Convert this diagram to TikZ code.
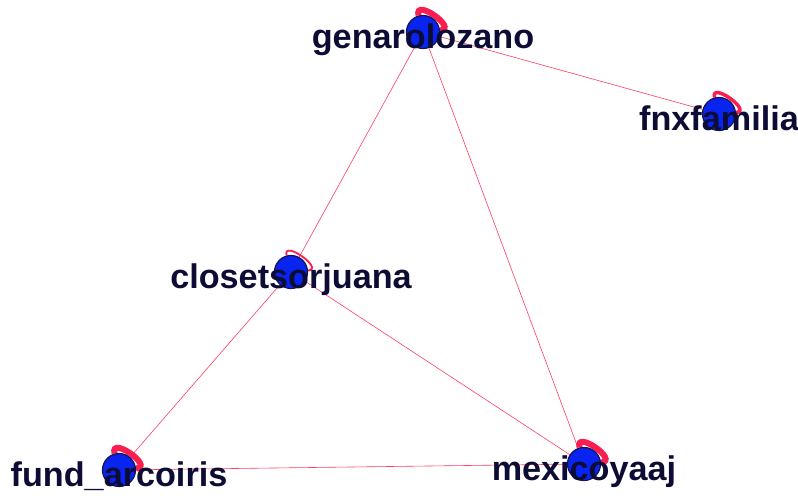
\documentclass[tikz,border=0pt]{standalone}
\usepackage{fontspec}
\setsansfont{Liberation Sans}
\usetikzlibrary{positioning}
\usetikzlibrary{backgrounds}
\definecolor{nodeblue}{RGB}{10,36,240}
\definecolor{nodeline}{RGB}{20,20,80}
\definecolor{labelink}{RGB}{12,12,52}
\definecolor{edgered}{RGB}{255,60,100}
\definecolor{loopred}{RGB}{250,30,80}
\tikzset{
    usernode/.style = {circle, line width=1.2pt, draw=nodeline, fill=nodeblue, minimum size=33pt, inner sep=0pt},
    userlabel/.style = {font=\sffamily\bfseries\fontsize{34.2}{34}\selectfont, text=labelink, anchor=base, inner sep=0pt, label distance=-1pt},
    edgeln/.style = {-, line width=0.6pt, edgered},
    selfloop/.style = {-, line width=6pt, loopred},
    selfloopthin/.style = {-, line width=1.8pt, loopred},
}
\begin{document}
\begin{tikzpicture}[x=1pt,y=1pt]
\useasboundingbox (0,0) rectangle (798,500);
%
\node[usernode,label={[userlabel]-90:genarolozano}] at (423,468) (gen) {};
\node[usernode,label={[userlabel]-90:fnxfamilia}] at (719,386) (fnx) {};
\node[usernode,label={[userlabel]-90:closetsorjuana}] at (291,228) (clo) {};
\node[usernode,label={[userlabel]-90:fund\_arcoiris}] at (119,30) (fun) {};
\node[usernode,label={[userlabel]-90:mexicoyaaj}] at (584,36) (mex) {};
%
\begin{scope}[on background layer]
\draw[edgeln] (gen) -- (fnx);
\draw[edgeln] (gen) -- (clo);
\draw[edgeln] (gen) -- (mex);
\draw[edgeln] (clo) -- (fun);
\draw[edgeln] (clo) -- (mex);
\draw[edgeln] (fun) -- (mex);
%
\draw[selfloop] (gen.105) .. controls +(105:19) and +(5:19) .. (gen.5);
\draw[selfloop,line width=3.5pt] (fnx.105) .. controls +(105:17) and +(5:17) .. (fnx.5);
\draw[selfloopthin] (clo.105) .. controls +(105:17) and +(5:17) .. (clo.5);
\draw[selfloop] (fun.105) .. controls +(105:19) and +(5:19) .. (fun.5);
\draw[selfloop] (mex.105) .. controls +(105:19) and +(5:19) .. (mex.5);
\end{scope}
\end{tikzpicture}
\end{document}
